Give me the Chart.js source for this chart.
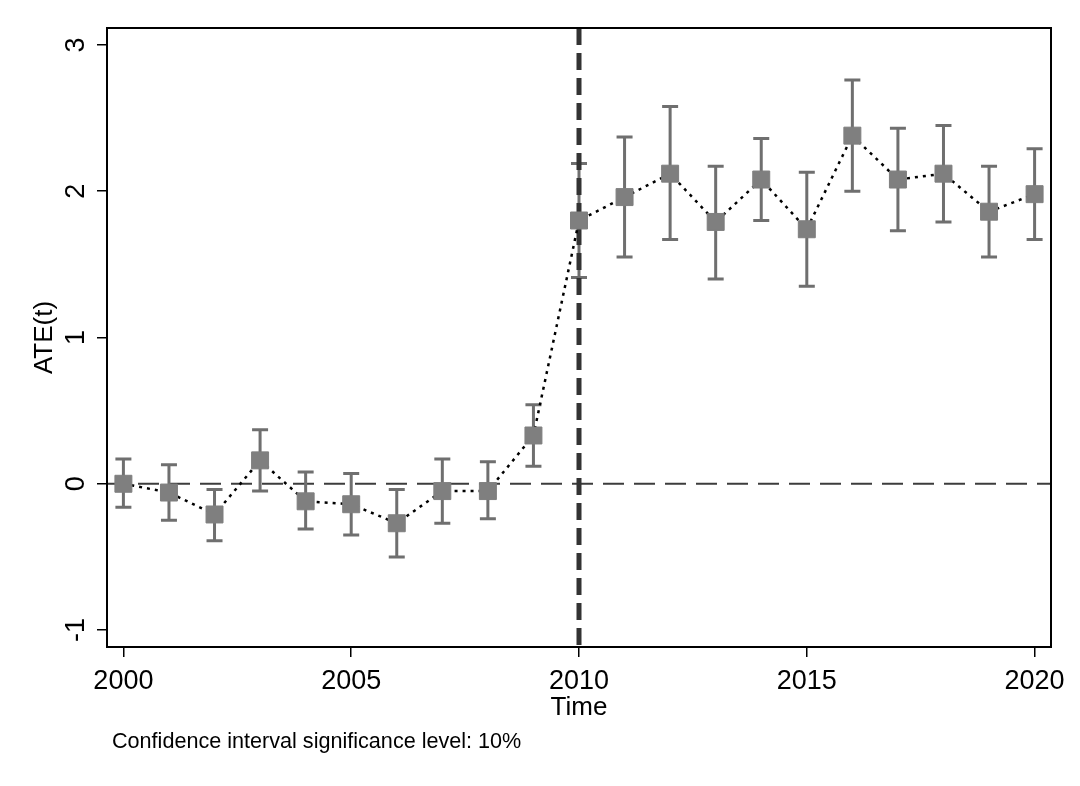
<!DOCTYPE html>
<html>
<head>
<meta charset="utf-8">
<script src="https://cdn.jsdelivr.net/npm/chart.js@4.4.1/dist/chart.umd.min.js"></script>
<style>
  html, body { margin: 0; padding: 0; background: #fff; }
</style>
</head>
<body>
<canvas id="chart" width="1080" height="786"></canvas>
<script>
// ----------------------
// data
// ----------------------
const years = [2000, 2001, 2002, 2003, 2004, 2005, 2006, 2007, 2008, 2009, 2010,
               2011, 2012, 2013, 2014, 2015, 2016, 2017, 2018, 2019, 2020];
const ate    = [0.00, -0.06, -0.21, 0.16, -0.12, -0.14, -0.27, -0.05, -0.05, 0.33, 1.80,
                1.96, 2.12, 1.79, 2.08, 1.74, 2.38, 2.08, 2.12, 1.86, 1.98];
const ciLow  = [-0.16, -0.25, -0.39, -0.05, -0.31, -0.35, -0.50, -0.27, -0.24, 0.12, 1.41,
                1.55, 1.67, 1.40, 1.80, 1.35, 2.00, 1.73, 1.79, 1.55, 1.67];
const ciHigh = [0.17, 0.13, -0.04, 0.37, 0.08, 0.07, -0.04, 0.17, 0.15, 0.54, 2.19,
                2.37, 2.58, 2.17, 2.36, 2.13, 2.76, 2.43, 2.45, 2.17, 2.29];
const xTicks = [2000, 2005, 2010, 2015, 2020];
const yTicks = [-1, 0, 1, 2, 3];
const treatYear = 2010;

const FONT = '"Liberation Sans", Arial, sans-serif';

// ----------------------
// reference lines, error bars, box and texts
// ----------------------
const decor = {
  id: 'decor',
  beforeDatasetsDraw(chart) {
    const { ctx, chartArea: a, scales: { x, y } } = chart;
    ctx.save();

    // dashed zero line
    const y0 = y.getPixelForValue(0);
    ctx.strokeStyle = '#3c3c3c';
    ctx.lineWidth = 2;
    ctx.setLineDash([21, 10]);
    ctx.beginPath();
    ctx.moveTo(a.left, y0);
    ctx.lineTo(a.right, y0);
    ctx.stroke();

    // confidence intervals
    ctx.setLineDash([]);
    ctx.strokeStyle = '#6f6f6f';
    ctx.lineWidth = 3;
    years.forEach((yr, i) => {
      const px = x.getPixelForValue(yr);
      const lo = y.getPixelForValue(ciLow[i]);
      const hi = y.getPixelForValue(ciHigh[i]);
      ctx.beginPath();
      ctx.moveTo(px, lo); ctx.lineTo(px, hi);
      ctx.moveTo(px - 8, lo); ctx.lineTo(px + 8, lo);
      ctx.moveTo(px - 8, hi); ctx.lineTo(px + 8, hi);
      ctx.stroke();
    });

    // treatment year
    const xv = x.getPixelForValue(treatYear);
    ctx.strokeStyle = '#333333';
    ctx.lineWidth = 5;
    ctx.setLineDash([17, 8]);
    ctx.beginPath();
    ctx.moveTo(xv, a.top);
    ctx.lineTo(xv, a.bottom);
    ctx.stroke();
    ctx.restore();
  },
  afterDraw(chart) {
    const { ctx, chartArea: a, scales: { y } } = chart;
    ctx.save();
    ctx.strokeStyle = '#000';
    ctx.lineWidth = 2;
    ctx.strokeRect(a.left, a.top, a.right - a.left, a.bottom - a.top);

    ctx.fillStyle = '#000';
    ctx.textAlign = 'center';
    ctx.textBaseline = 'middle';

    // rotated y tick labels
    ctx.font = '27px ' + FONT;
    yTicks.forEach(v => {
      ctx.save();
      ctx.translate(77, y.getPixelForValue(v));
      ctx.rotate(-Math.PI / 2);
      ctx.fillText(String(v), 0, 0);
      ctx.restore();
    });

    // axis titles
    ctx.font = '26px ' + FONT;
    ctx.save();
    ctx.translate(45, (a.top + a.bottom) / 2);
    ctx.rotate(-Math.PI / 2);
    ctx.fillText('ATE(t)', 0, 0);
    ctx.restore();
    ctx.fillText('Time', (a.left + a.right) / 2, 708);

    // note
    ctx.textAlign = 'left';
    ctx.font = '21.6px ' + FONT;
    ctx.fillText('Confidence interval significance level: 10%', 112, 742);
    ctx.restore();
  }
};

new Chart(document.getElementById('chart'), {
  type: 'line',
  data: {
    datasets: [{
      data: years.map((yr, i) => ({ x: yr, y: ate[i] })),
      borderColor: '#000',
      borderWidth: 2.5,
      borderDash: [3, 5],
      tension: 0,
      pointStyle: 'rect',
      pointRadius: 12,
      pointBackgroundColor: '#7f7f7f',
      pointBorderColor: '#7f7f7f',
      pointBorderWidth: 1
    }]
  },
  options: {
    responsive: false,
    animation: false,
    layout: { padding: { top: 28, right: 29, left: 0, bottom: 0 } },
    plugins: { legend: { display: false }, tooltip: { enabled: false } },
    scales: {
      x: {
        type: 'linear',
        min: 1999.64,
        max: 2020.36,
        afterFit: s => { s.height = 139; },
        afterBuildTicks: s => { s.ticks = xTicks.map(v => ({ value: v })); },
        grid: { drawOnChartArea: false, drawTicks: true, tickLength: 10, color: '#000', lineWidth: 1.5 },
        border: { display: true, color: '#000', width: 2 },
        ticks: {
          autoSkip: false, maxRotation: 0, padding: 8,
          color: '#000', font: { family: FONT, size: 27 },
          callback: v => String(v)
        }
      },
      y: {
        min: -1.116,
        max: 3.116,
        afterFit: s => { s.width = 107; },
        afterBuildTicks: s => { s.ticks = yTicks.map(v => ({ value: v })); },
        grid: { drawOnChartArea: false, drawTicks: true, tickLength: 10, color: '#000', lineWidth: 1.5 },
        border: { display: true, color: '#000', width: 2 },
        ticks: { color: 'rgba(0,0,0,0)', font: { family: FONT, size: 27 } }
      }
    }
  },
  plugins: [decor]
});
</script>
</body>
</html>
